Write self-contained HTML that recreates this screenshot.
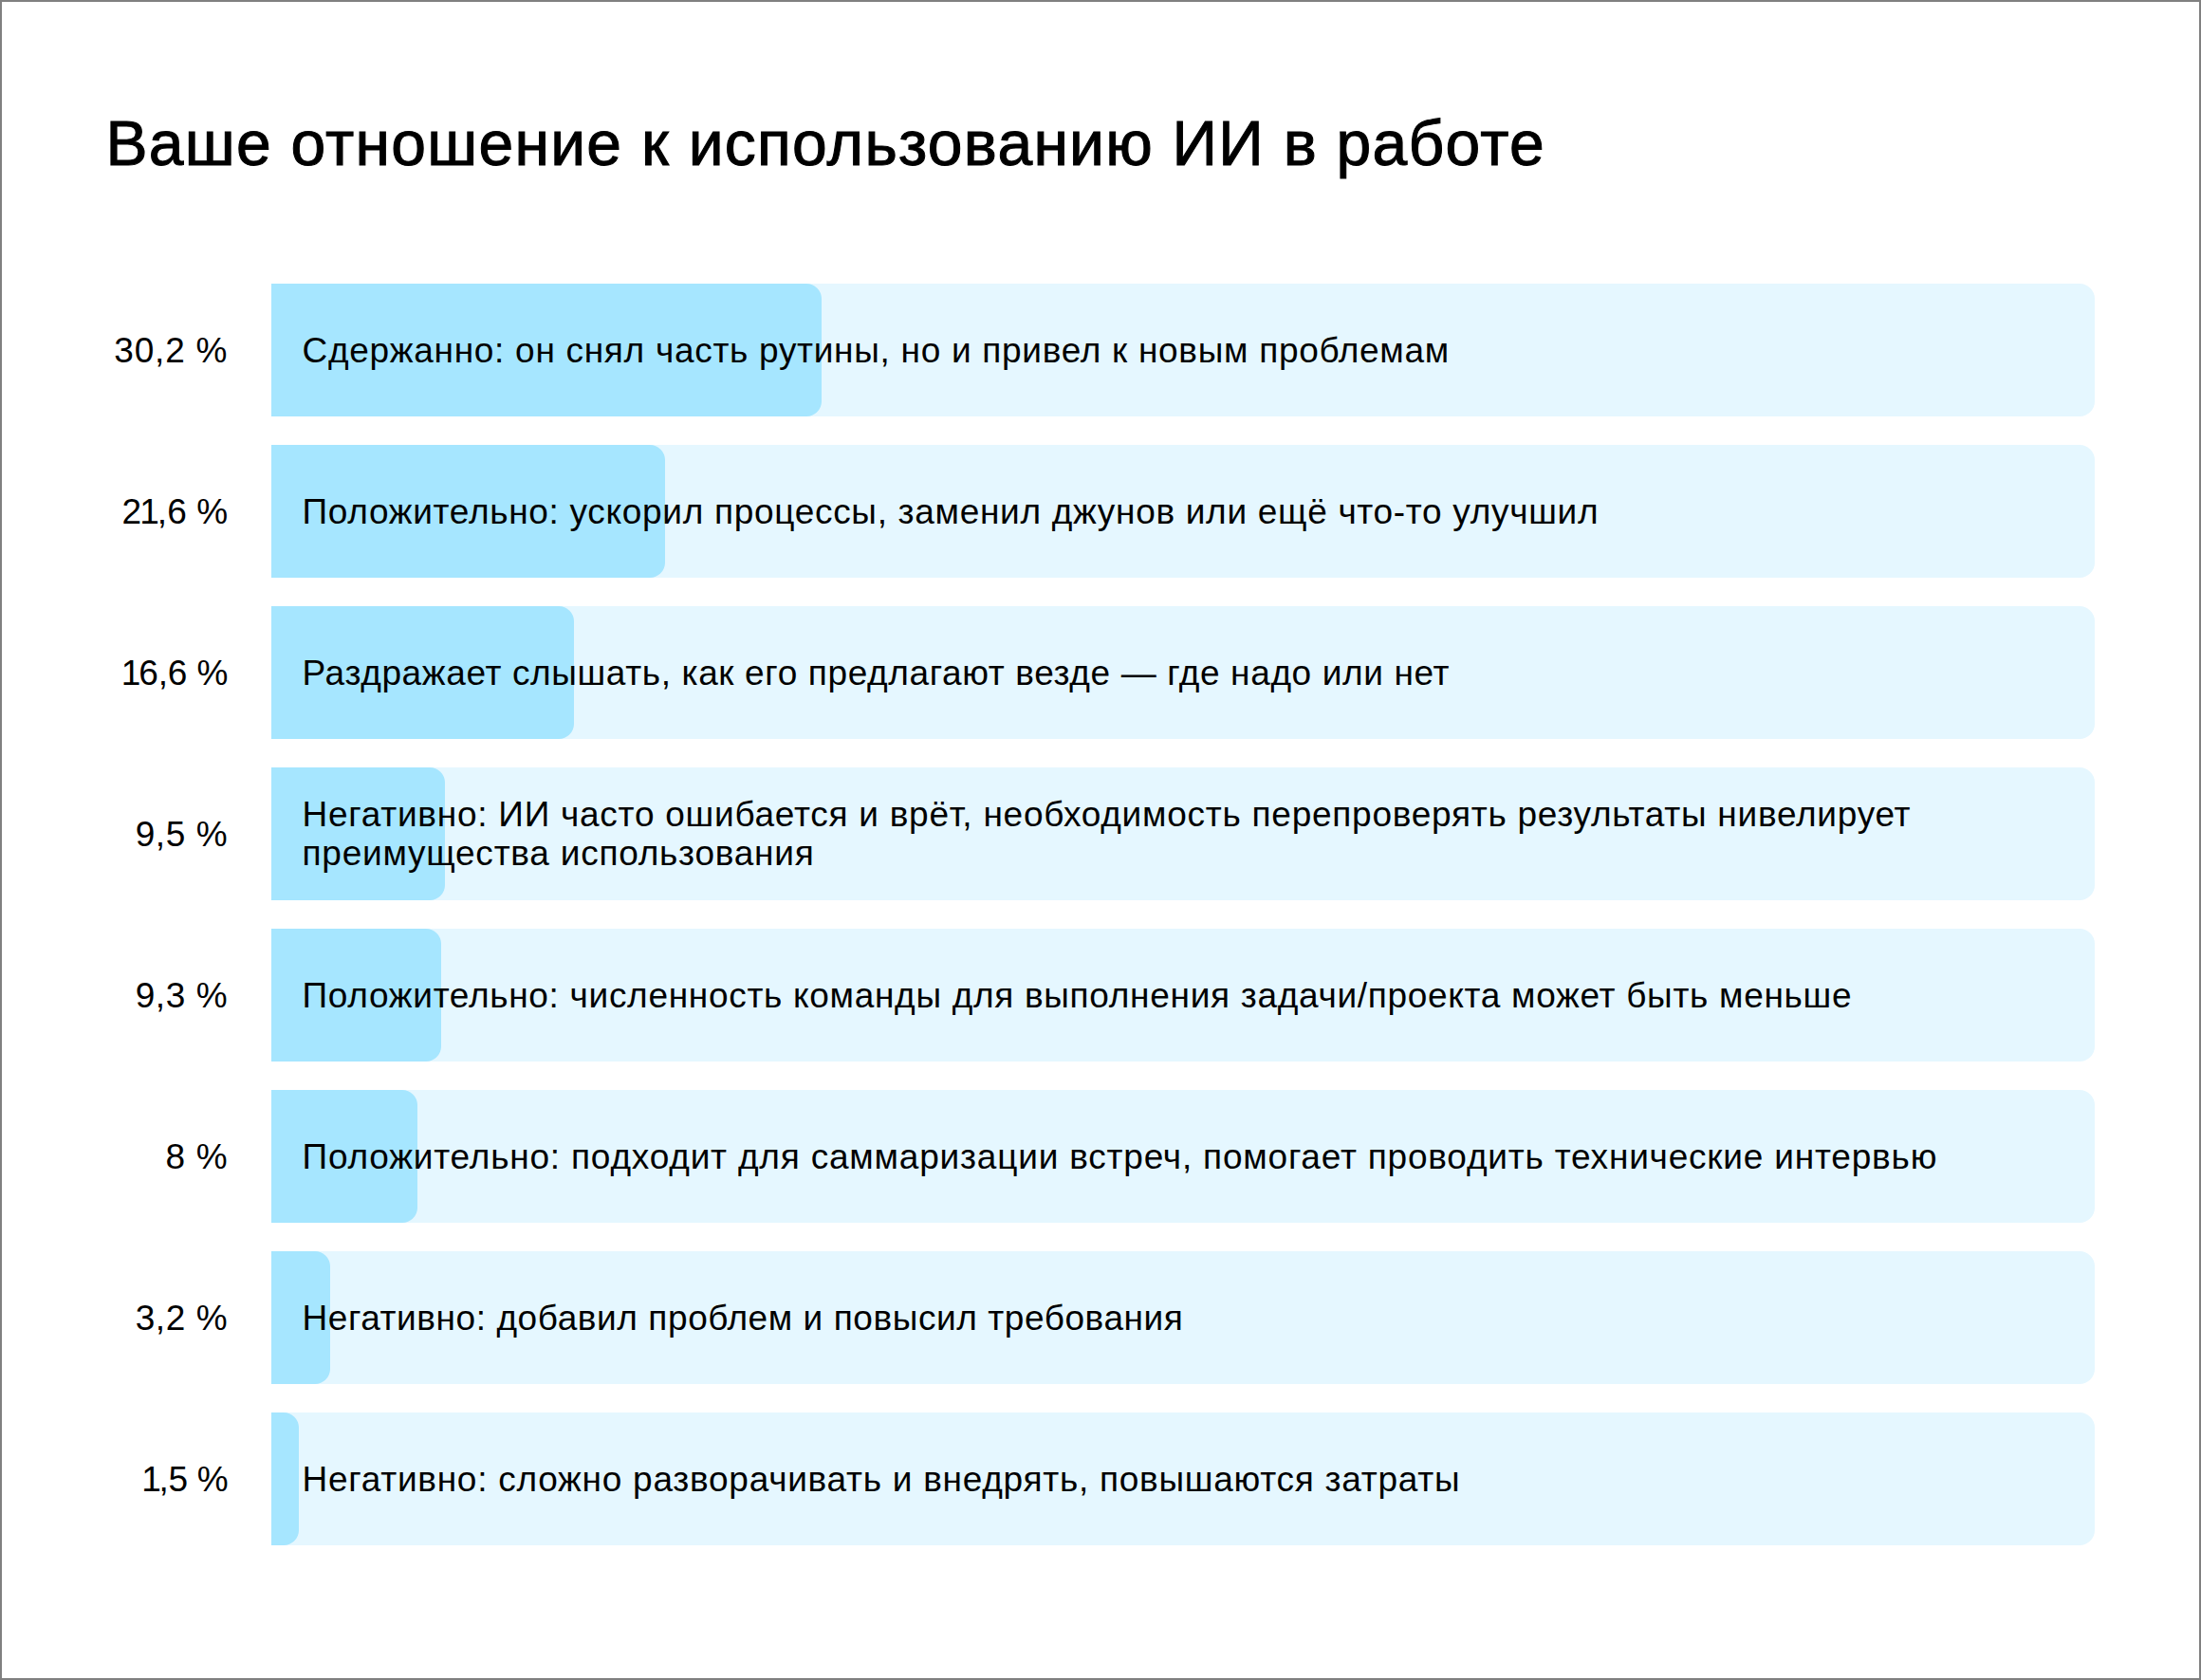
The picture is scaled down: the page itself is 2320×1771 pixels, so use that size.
<!DOCTYPE html>
<html lang="ru">
<head>
<meta charset="utf-8">
<title>Ваше отношение к использованию ИИ в работе</title>
<style>
html,body{margin:0;padding:0;background:#fff;}
body{width:2320px;height:1771px;position:relative;overflow:hidden;font-family:"Liberation Sans",Arial,sans-serif;color:#000;}
.frame{position:absolute;left:0;top:0;width:2316px;height:1767px;border:2px solid #808080;}
h1{position:absolute;left:111.5px;top:110.5px;margin:0;font-weight:400;font-size:66px;line-height:80px;white-space:nowrap;letter-spacing:1.27px;-webkit-text-stroke:1.0px #000;}
.row{position:absolute;left:0;width:2320px;height:140px;}
.pct{position:absolute;left:0;width:240.3px;top:0.5px;height:140px;line-height:140px;text-align:right;font-size:37px;white-space:nowrap;letter-spacing:0.8px;}
.bar{position:absolute;left:286px;top:0;width:1922px;height:140px;background:#e5f7ff;border-radius:0 16px 16px 0;}
.fill{position:absolute;left:0;top:0;height:140px;background:#a6e6ff;border-radius:0 16px 16px 0;}
.lbl{position:absolute;left:32.5px;top:0.3px;height:140px;display:flex;flex-direction:column;justify-content:center;font-size:37px;line-height:41.4px;white-space:nowrap;}
.lbl span{display:block;}
.o{margin:0 -2px;}
</style>
</head>
<body>
<div class="frame"></div>
<h1>Ваше отношение к использованию ИИ в работе</h1>
<div class="row" style="top:299px"><div class="pct" style="letter-spacing:0.8px">30,2 %</div><div class="bar"><div class="fill" style="width:580.0px"></div><div class="lbl"><span style="letter-spacing:0.709px">Сдержанно: он снял часть рутины, но и привел к новым проблемам</span></div></div></div>
<div class="row" style="top:469px"><div class="pct" style="letter-spacing:0.1px">2<span class="o">1</span>,6 %</div><div class="bar"><div class="fill" style="width:415.2px"></div><div class="lbl"><span style="letter-spacing:0.695px">Положительно: ускорил процессы, заменил джунов или ещё что-то улучшил</span></div></div></div>
<div class="row" style="top:639px"><div class="pct" style="letter-spacing:-0.1px"><span class="o">1</span>6,6 %</div><div class="bar"><div class="fill" style="width:319.0px"></div><div class="lbl"><span style="letter-spacing:0.635px">Раздражает слышать, как его предлагают везде — где надо или нет</span></div></div></div>
<div class="row" style="top:809px"><div class="pct" style="letter-spacing:0.6px">9,5 %</div><div class="bar"><div class="fill" style="width:182.6px"></div><div class="lbl"><span style="letter-spacing:0.747px">Негативно: ИИ часто ошибается и врёт, необходимость перепроверять результаты нивелирует</span><span style="letter-spacing:0.757px">преимущества использования</span></div></div></div>
<div class="row" style="top:979px"><div class="pct" style="letter-spacing:0.6px">9,3 %</div><div class="bar"><div class="fill" style="width:178.7px"></div><div class="lbl"><span style="letter-spacing:0.699px">Положительно: численность команды для выполнения задачи/проекта может быть меньше</span></div></div></div>
<div class="row" style="top:1149px"><div class="pct" style="letter-spacing:0.7px">8 %</div><div class="bar"><div class="fill" style="width:153.8px"></div><div class="lbl"><span style="letter-spacing:0.802px">Положительно: подходит для саммаризации встреч, помогает проводить технические интервью</span></div></div></div>
<div class="row" style="top:1319px"><div class="pct" style="letter-spacing:0.6px">3,2 %</div><div class="bar"><div class="fill" style="width:61.5px"></div><div class="lbl"><span style="letter-spacing:0.579px">Негативно: добавил проблем и повысил требования</span></div></div></div>
<div class="row" style="top:1489px"><div class="pct" style="letter-spacing:-0.3px"><span class="o">1</span>,5 %</div><div class="bar"><div class="fill" style="width:28.8px"></div><div class="lbl"><span style="letter-spacing:0.739px">Негативно: сложно разворачивать и внедрять, повышаются затраты</span></div></div></div>
</body>
</html>
